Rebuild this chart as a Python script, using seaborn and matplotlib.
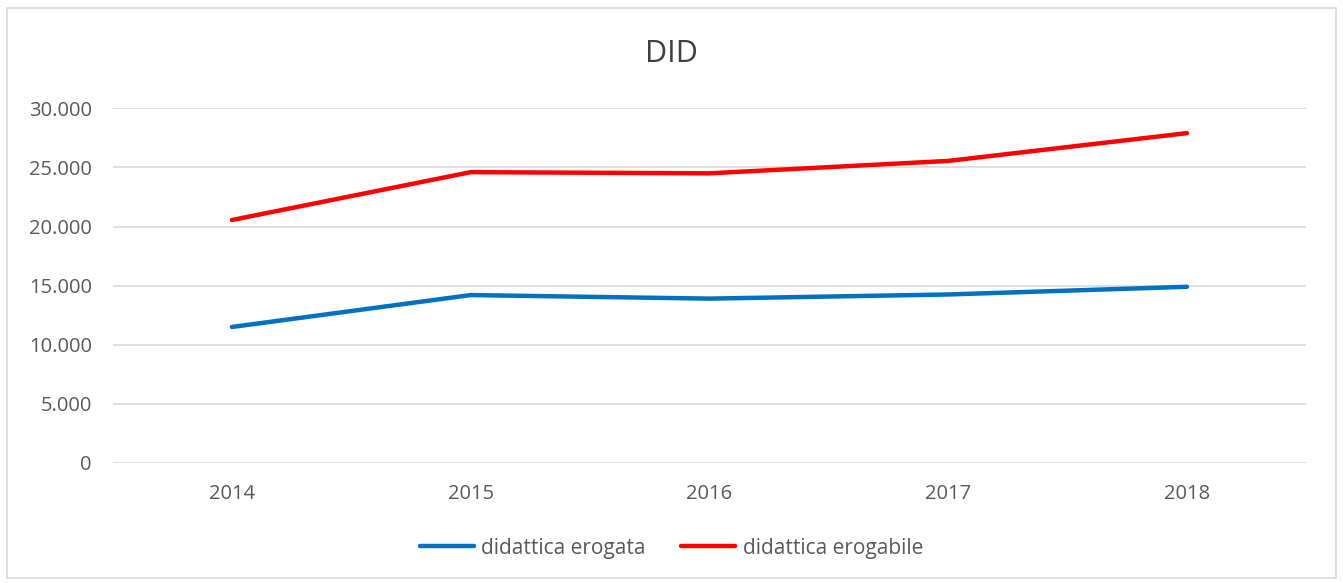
import matplotlib.pyplot as plt
import matplotlib.ticker as mticker
from matplotlib.patches import Rectangle
import pandas as pd
import seaborn as sns

anni = [2014, 2015, 2016, 2017, 2018]
erogata = [11500, 14200, 13900, 14250, 14900]
erogabile = [20550, 24600, 24500, 25550, 27900]
serie = ['didattica erogata', 'didattica erogabile']

df = pd.DataFrame({
    'anno': [str(a) for a in anni] * 2,
    'valore': erogata + erogabile,
    'serie': [serie[0]] * len(anni) + [serie[1]] * len(anni),
})

sns.set_style('white')
plt.rcParams['font.family'] = ['Open Sans', 'DejaVu Sans']

fig = plt.figure(figsize=(13.43, 5.83), dpi=100)
ax = fig.add_axes([0.0838, 0.206, 0.8889, 0.6082])

sns.lineplot(data=df, x='anno', y='valore', hue='serie', sort=False,
             palette={serie[0]: '#0070C0', serie[1]: '#FF0000'},
             linewidth=3.2, ax=ax, legend=True)

ax.set_xlim(-0.5, len(anni) - 0.5)
ax.set_ylim(0, 30000)
ax.set_yticks(range(0, 30001, 5000))
ax.yaxis.set_major_formatter(mticker.FuncFormatter(
    lambda v, p: '0' if v == 0 else f'{int(v):,}'.replace(',', '.')))
ax.grid(axis='y', color='#D9D9D9', linewidth=1.2)
ax.set_axisbelow(True)
for s in ax.spines.values():
    s.set_visible(False)
ax.tick_params(axis='both', length=0, labelsize=14.5, labelcolor='#595959')
ax.tick_params(axis='y', pad=15)
ax.tick_params(axis='x', pad=15)
ax.set_xlabel('')
ax.set_ylabel('')

ax.get_legend().remove()
h, l = ax.get_legend_handles_labels()
fig.legend(h, l, loc='center', bbox_to_anchor=(0.5, 0.06), ncol=2, frameon=False,
           fontsize=15, labelcolor='#595959', handlelength=2.6, handletextpad=0.35,
           columnspacing=1.7)

fig.text(0.5, 0.908, 'DID', ha='center', va='center', fontsize=22, color='#404040')

fig.patches.append(Rectangle((7 / 1343, 5 / 583), 1329 / 1343, 570 / 583,
                             transform=fig.transFigure, fill=False,
                             edgecolor='#D9D9D9', linewidth=1.2))

fig.savefig('out.png', dpi=100)
